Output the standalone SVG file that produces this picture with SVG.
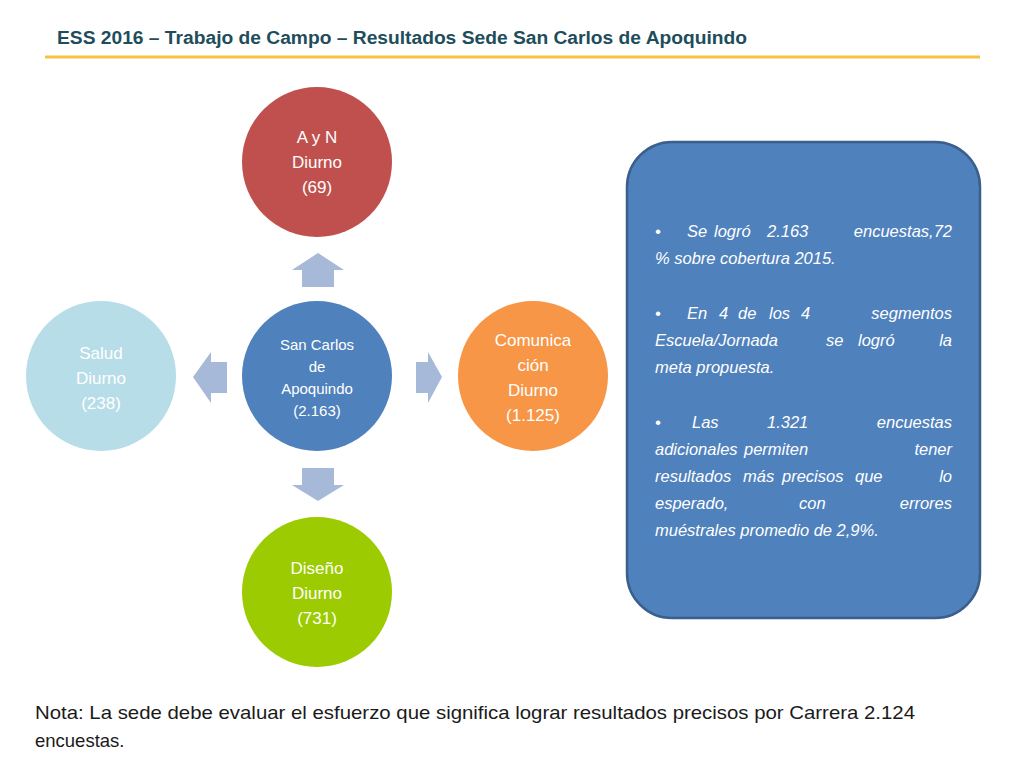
<svg xmlns="http://www.w3.org/2000/svg" width="1024" height="768" viewBox="0 0 1024 768">
<style>
.c{font-family:"Liberation Sans",Arial,sans-serif;fill:#fff;text-anchor:middle;font-size:17px}
.cs{font-size:15px}
.b{font-family:"Liberation Sans",Arial,sans-serif;fill:#fff;font-style:italic;font-size:16.5px}
.e{text-anchor:end}
.ar{fill:#A7B9D9}
</style>
<rect width="1024" height="768" fill="#fff"/>
<text x="57" y="44" font-family="Liberation Sans,Arial,sans-serif" font-weight="bold" font-size="18" fill="#1E4D5C" textLength="690" lengthAdjust="spacingAndGlyphs">ESS 2016 – Trabajo de Campo – Resultados Sede San Carlos de Apoquindo</text>
<line x1="45" y1="57" x2="980" y2="57" stroke="#F5C342" stroke-width="3"/>
<g id="connectors">
<polygon class="ar" points="302,287 302,270 292,270 318,253 344,270 334,270 334,287"/>
<polygon class="ar" points="302,468 334,468 334,485 344,485 318,501 292,485 302,485"/>
<polygon class="ar" points="416,362 416,393 428,393 428,403 442,377 428,352 428,362"/>
<polygon class="ar" points="227,362 227,393 211,393 211,403 193,377 211,352 211,362"/>
</g>
<g id="n-top"><circle cx="317" cy="162" r="75" fill="#C0504D"/><text class="c"><tspan x="317" y="143">A y N</tspan><tspan x="317" y="168">Diurno</tspan><tspan x="317" y="193">(69)</tspan></text></g>
<g id="n-center"><circle cx="317" cy="376" r="75" fill="#4F81BD"/><text class="c cs"><tspan x="317" y="350">San Carlos</tspan><tspan x="317" y="372">de</tspan><tspan x="317" y="394">Apoquindo</tspan><tspan x="317" y="416">(2.163)</tspan></text></g>
<g id="n-right"><circle cx="533" cy="376" r="75" fill="#F79646"/><text class="c"><tspan x="533" y="346">Comunica</tspan><tspan x="533" y="371">ción</tspan><tspan x="533" y="396">Diurno</tspan><tspan x="533" y="421">(1.125)</tspan></text></g>
<g id="n-bottom"><circle cx="317" cy="592" r="75" fill="#9BCB00"/><text class="c"><tspan x="317" y="574">Diseño</tspan><tspan x="317" y="599">Diurno</tspan><tspan x="317" y="624">(731)</tspan></text></g>
<g id="n-left"><circle cx="101" cy="376" r="75" fill="#B7DDE8"/><text class="c"><tspan x="101" y="359">Salud</tspan><tspan x="101" y="384">Diurno</tspan><tspan x="101" y="409">(238)</tspan></text></g>
<g id="box">
<rect x="627" y="142" width="353" height="476" rx="45" fill="#4F81BD" stroke="#3A5F8C" stroke-width="2.5"/>
<g class="b">
<text x="655" y="237">•</text><text x="687" y="237">Se</text><text x="714" y="237">logró</text><text x="767" y="237">2.163</text><text class="e" x="952" y="237">encuestas,72</text>
<text x="655" y="264">% sobre cobertura 2015.</text>
<text x="655" y="319">•</text><text x="687" y="319">En</text><text x="719" y="319">4</text><text x="738" y="319">de</text><text x="769" y="319">los</text><text x="801" y="319">4</text><text class="e" x="952" y="319">segmentos</text>
<text x="655" y="346">Escuela/Jornada</text><text x="826" y="346">se</text><text x="858" y="346">logró</text><text class="e" x="952" y="346">la</text>
<text x="655" y="373">meta propuesta.</text>
<text x="655" y="428">•</text><text x="692" y="428">Las</text><text x="767" y="428">1.321</text><text class="e" x="952" y="428">encuestas</text>
<text x="655" y="455">adicionales</text><text x="744" y="455">permiten</text><text class="e" x="952" y="455">tener</text>
<text x="655" y="482">resultados</text><text x="743" y="482">más</text><text x="782" y="482">precisos</text><text x="855" y="482">que</text><text class="e" x="952" y="482">lo</text>
<text x="655" y="509">esperado,</text><text x="799" y="509">con</text><text class="e" x="952" y="509">errores</text>
<text x="655" y="536">muéstrales promedio de 2,9%.</text>
</g>
</g>
<g font-family="Liberation Sans,Arial,sans-serif" font-size="18.5" fill="#1a1a1a">
<text x="35" y="719" textLength="880" lengthAdjust="spacingAndGlyphs">Nota: La sede debe evaluar el esfuerzo que significa lograr resultados precisos por Carrera 2.124</text>
<text x="35" y="747">encuestas.</text>
</g>
</svg>
